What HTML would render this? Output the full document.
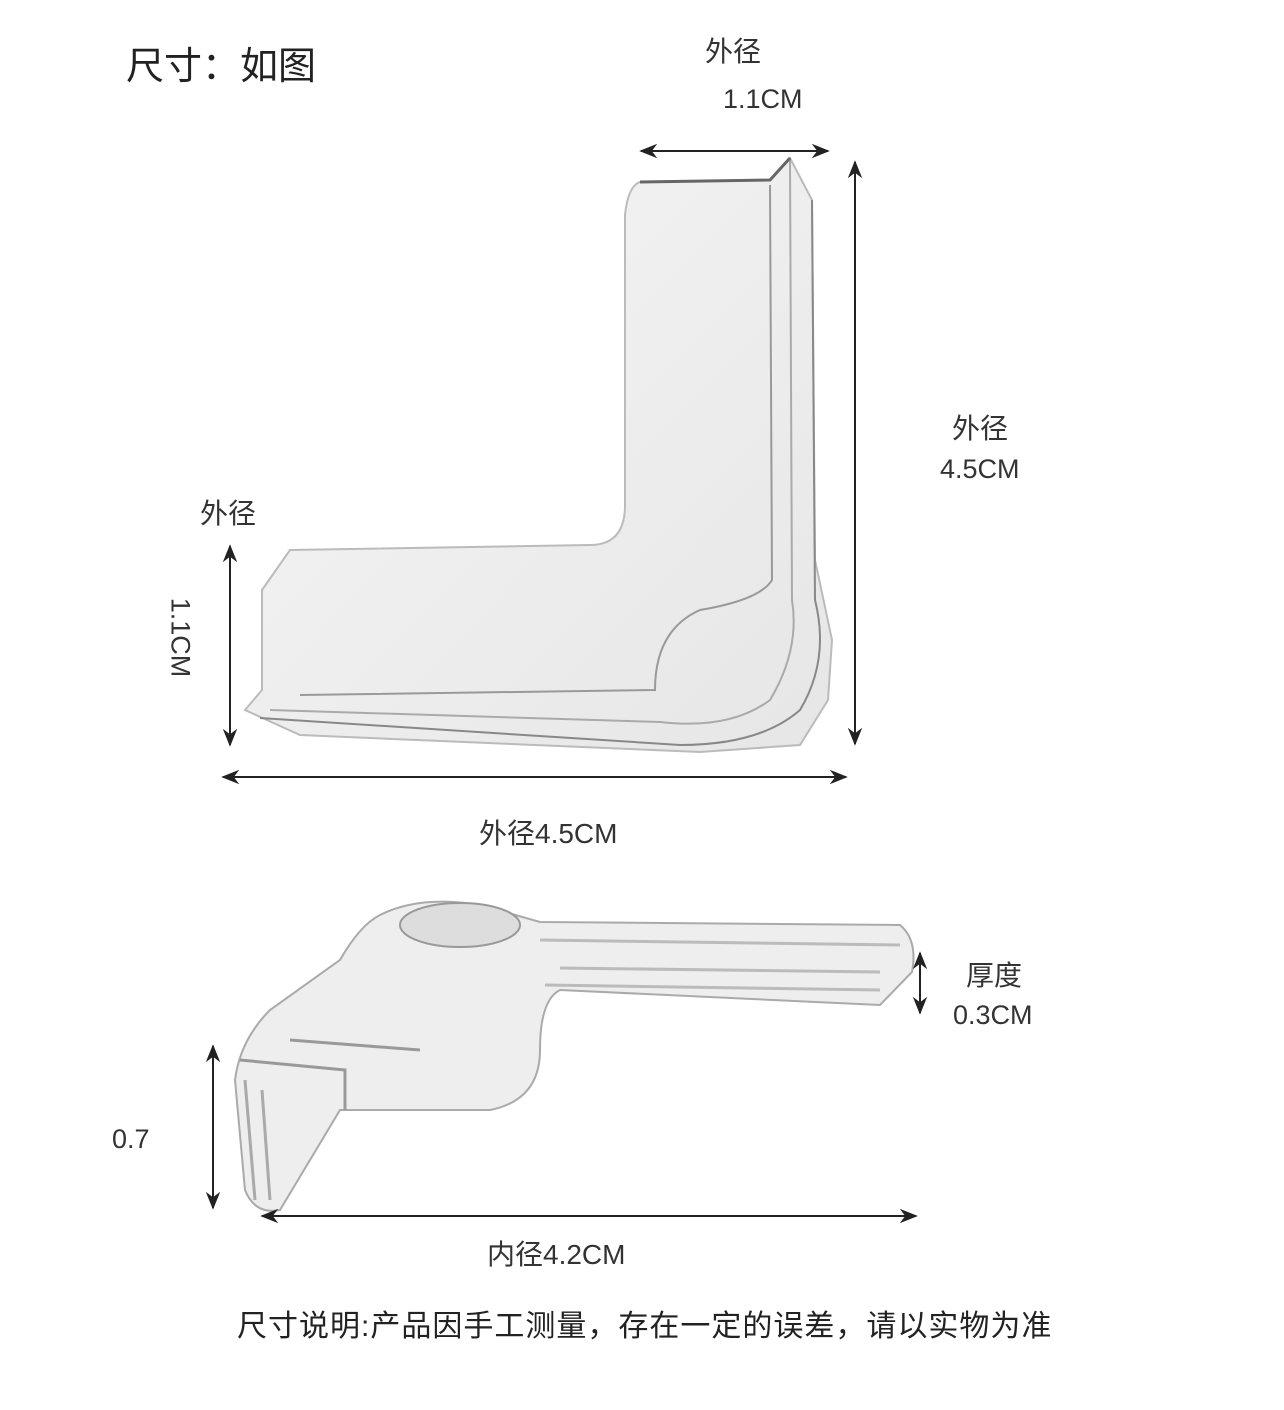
<!DOCTYPE html>
<html><head><meta charset="utf-8"><style>
body{margin:0;background:#fff;width:1284px;height:1410px;overflow:hidden;position:relative;font-family:"Liberation Sans","Noto Sans CJK SC",sans-serif;color:#333}
.t{position:absolute;white-space:nowrap;line-height:1}
</style></head><body>
<svg width="1284" height="1410" style="position:absolute;left:0;top:0">
<defs>
<marker id="a" viewBox="0 0 10 10" refX="9" refY="5" markerWidth="9" markerHeight="9" orient="auto-start-reverse"><path d="M0,1 L10,5 L0,9 L3,5z" fill="#222"/></marker>
<linearGradient id="g" x1="0" y1="0" x2="1" y2="1"><stop offset="0" stop-color="#f6f6f6"/><stop offset="1" stop-color="#e6e6e6"/></linearGradient>
</defs>
<path d="M640,182 L770,180 L790,158 L812,200 L815,560 L832,640 L828,700 L800,745 L700,752 L300,735 L245,710 L262,690 L262,590 L290,550 L590,545 Q625,545 625,505 L625,215 Q628,186 640,182z" fill="url(#g)" stroke="#bbb" stroke-width="2"/>
<path d="M770,185 L772,580 Q760,600 700,610 Q655,630 655,690 L300,695" fill="none" stroke="#999" stroke-width="2"/>
<path d="M790,160 L792,600 Q800,650 770,700 Q730,730 660,722 L270,710" fill="none" stroke="#aaa" stroke-width="2"/>
<path d="M812,200 L815,600 Q830,660 800,710 Q760,745 680,745 L260,718" fill="none" stroke="#888" stroke-width="2"/>
<path d="M640,182 L770,180 L790,158" fill="none" stroke="#666" stroke-width="3"/>
<path d="M380,915 Q420,895 480,905 L540,922 L900,925 Q918,940 912,972 L880,1005 L560,990 Q540,1000 540,1050 Q540,1100 490,1110 L340,1110 L280,1210 Q255,1215 245,1190 L235,1080 Q240,1040 270,1010 L340,960 Q360,925 380,915z" fill="#eeeeee" stroke="#aaa" stroke-width="2"/>
<ellipse cx="460" cy="925" rx="60" ry="22" fill="#ddd" stroke="#999" stroke-width="2"/>
<path d="M540,940 L900,945 M560,968 L880,972 M545,985 L880,990" stroke="#bbb" stroke-width="3"/>
<path d="M240,1060 L345,1070 L345,1110 M290,1040 L420,1050" stroke="#999" stroke-width="3" fill="none"/>
<path d="M245,1080 L255,1200 M262,1090 L270,1200" stroke="#aaa" stroke-width="3"/>
<g stroke="#222" stroke-width="2" marker-start="url(#a)" marker-end="url(#a)">
<line x1="641" y1="151" x2="828" y2="151"/>
<line x1="855" y1="162" x2="855" y2="744"/>
<line x1="230" y1="546" x2="230" y2="745"/>
<line x1="223" y1="777" x2="846" y2="777"/>
<line x1="213" y1="1046" x2="213" y2="1208"/>
<line x1="262" y1="1216" x2="916" y2="1216"/>
<line x1="920" y1="953" x2="920" y2="1013"/>
</g>
</svg>
<div class="t" style="left:126px;top:48px;font-size:38px;color:#222">尺寸：如图</div>
<div class="t" style="left:705px;top:38px;font-size:28px">外径</div>
<div class="t" style="left:723px;top:86px;font-size:27px">1.1CM</div>
<div class="t" style="left:952px;top:415px;font-size:28px">外径</div>
<div class="t" style="left:940px;top:456px;font-size:27px">4.5CM</div>
<div class="t" style="left:200px;top:500px;font-size:28px">外径</div>
<div class="t" style="left:140px;top:624px;font-size:27px;transform:rotate(90deg)">1.1CM</div>
<div class="t" style="left:479px;top:820px;font-size:28px">外径4.5CM</div>
<div class="t" style="left:966px;top:962px;font-size:28px">厚度</div>
<div class="t" style="left:953px;top:1002px;font-size:27px">0.3CM</div>
<div class="t" style="left:112px;top:1126px;font-size:27px">0.7</div>
<div class="t" style="left:487px;top:1241px;font-size:28px">内径4.2CM</div>
<div class="t" style="left:237px;top:1312px;font-size:30px;letter-spacing:1px;color:#222">尺寸说明:产品因手工测量，存在一定的误差，请以实物为准</div>
</body></html>
